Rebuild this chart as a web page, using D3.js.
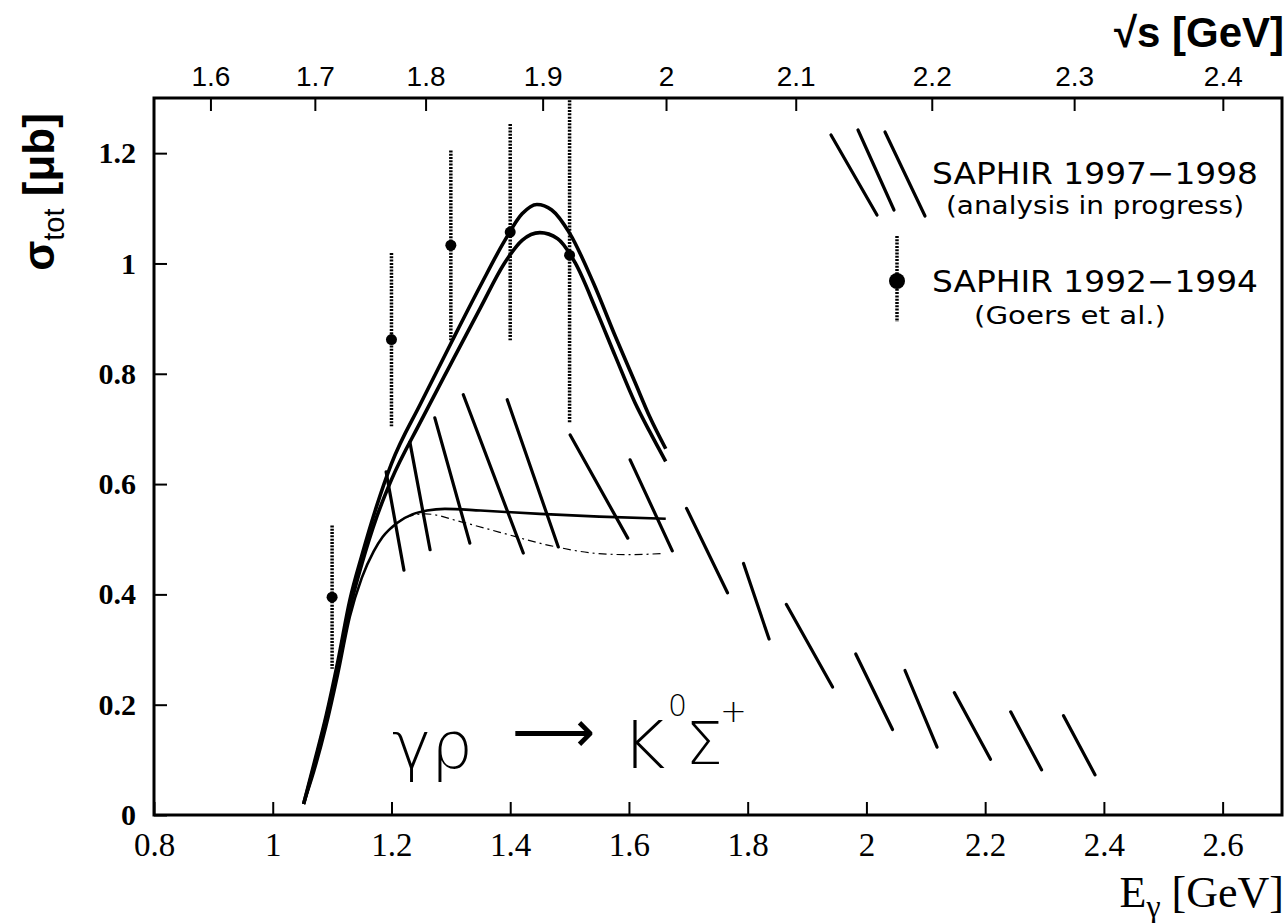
<!DOCTYPE html>
<html>
<head>
<meta charset="utf-8">
<script src="https://cdn.jsdelivr.net/npm/d3@7"></script>
<style>
  body { margin: 0; background: #fff; }
  svg { display: block; }
  .tick text { fill: #000; }
</style>
</head>
<body>
<div id="chart"></div>
<script>

      // SAPHIR 1992-1994 points (Goers et al.)
      var pointE = [1.1, 1.2, 1.3, 1.4, 1.5];
      var pointS = [0.395, 0.862, 1.033, 1.057, 1.015];
      var pointErr = [0.13, 0.157, 0.172, 0.196, 0.305];

      // model curves [E, sigma]
      var curveA = [[1.052,0.02],[1.07,0.095],[1.09,0.18],[1.11,0.28],[1.13,0.39],[1.15,0.47],
                    [1.175,0.56],[1.2,0.637],[1.25,0.748],[1.3,0.855],[1.35,0.96],[1.39,1.04],
                    [1.42,1.09],[1.445,1.107],[1.47,1.097],[1.5,1.055],[1.54,0.965],[1.577,0.868],
                    [1.61,0.785],[1.635,0.722],[1.662,0.664]];
      var curveB = [[1.052,0.02],[1.07,0.09],[1.09,0.175],[1.11,0.27],[1.13,0.375],[1.15,0.455],
                    [1.175,0.54],[1.2,0.608],[1.25,0.715],[1.3,0.818],[1.35,0.92],[1.39,1.0],
                    [1.42,1.042],[1.45,1.056],[1.48,1.045],[1.51,1.0],[1.545,0.915],[1.577,0.832],
                    [1.61,0.748],[1.635,0.695],[1.662,0.641]];
      var curveC = [[1.052,0.02],[1.07,0.08],[1.09,0.16],[1.11,0.255],[1.13,0.36],[1.15,0.43],
                    [1.17,0.478],[1.185,0.504],[1.21,0.53],[1.235,0.545],[1.26,0.552],[1.29,0.555],
                    [1.35,0.552],[1.45,0.546],[1.55,0.541],[1.662,0.537]];
      var curveD = [[1.2,0.52],[1.225,0.54],[1.257,0.546],[1.319,0.531],[1.381,0.513],
                    [1.465,0.489],[1.549,0.474],[1.6,0.472],[1.655,0.474]];

      // SAPHIR 1997-1998 hatching, each stroke [E1, s1, E2, s2]
      var hatchStrokes = [
        [1.191,0.622,1.221,0.444], [1.231,0.676,1.265,0.481], [1.273,0.720,1.332,0.493],
        [1.321,0.762,1.422,0.475], [1.395,0.753,1.481,0.486], [1.501,0.689,1.598,0.502],
        [1.602,0.644,1.673,0.479], [1.697,0.556,1.766,0.403], [1.793,0.456,1.836,0.319],
        [1.865,0.382,1.943,0.232], [1.982,0.292,2.044,0.155], [2.065,0.262,2.119,0.123],
        [2.148,0.222,2.209,0.101], [2.243,0.187,2.295,0.082], [2.332,0.180,2.385,0.073]
      ];

      // ticks
      var xMajor = [0.8, 1, 1.2, 1.4, 1.6, 1.8, 2, 2.2, 2.4, 2.6];
      var yMajor = [0, 0.2, 0.4, 0.6, 0.8, 1, 1.2];
      var wMajor = [1.6, 1.7, 1.8, 1.9, 2, 2.1, 2.2, 2.3, 2.4];

      var mp = 0.938272;

      var svg = d3.select("#chart").append("svg")
          .attr("width", 1287)
          .attr("height", 923);

      var pLeft = 154, pRight = 1282, pTop = 98, pBottom = 815;

      ////// Scales /////////////////
      var xScale = d3.scaleLinear().domain([0.8, 2.7]).range([pLeft, pRight]);
      var yScale = d3.scaleLinear().domain([0, 1.3]).range([pBottom, pTop]);
      // sqrt(s) = sqrt(mp^2 + 2 mp E)  ->  x is linear in s, so a pow scale with exponent 2
      var wScale = d3.scalePow().exponent(2)
          .domain([Math.sqrt(mp*mp + 2*mp*0.8), Math.sqrt(mp*mp + 2*mp*2.7)])
          .range([pLeft, pRight]);

      var xMinor = d3.range(0.8, 2.7, 0.05);
      var yMinor = d3.range(0, 1.3, 0.05);
      var wMinor = d3.range(1.56, 2.44, 0.02);

      /////// Axes //////////////////
      var gx = svg.append("g").attr("transform", "translate(0," + pBottom + ")");
      gx.call(d3.axisBottom(xScale).tickValues(xMinor).tickSize(-6).tickFormat(""));
      gx.call(d3.axisBottom(xScale).tickValues(xMajor).tickSize(-13).tickPadding(18)
          .tickFormat(function(d) { return String(+d.toFixed(1)); }));
      gx.selectAll("text")
          .attr("font-family", "Liberation Serif, Times New Roman, serif")
          .attr("font-size", 33);

      var gy = svg.append("g").attr("transform", "translate(" + pLeft + ",0)");
      gy.call(d3.axisLeft(yScale).tickValues(yMinor).tickSize(-7).tickFormat(""));
      gy.call(d3.axisLeft(yScale).tickValues(yMajor).tickSize(-13).tickPadding(18)
          .tickFormat(function(d) { return String(+d.toFixed(1)); }));
      gy.selectAll("text")
          .attr("font-family", "Liberation Serif, Times New Roman, serif")
          .attr("font-weight", "bold")
          .attr("font-size", 30);

      var gw = svg.append("g").attr("transform", "translate(0," + pTop + ")");
      gw.call(d3.axisTop(wScale).tickValues(wMinor).tickSize(-6).tickFormat(""));
      gw.call(d3.axisTop(wScale).tickValues(wMajor).tickSize(-13).tickPadding(12)
          .tickFormat(function(d) { return String(+d.toFixed(1)); }));
      gw.selectAll("text")
          .attr("font-family", "Liberation Sans Narrow, Liberation Sans, Arial, sans-serif")
          .attr("font-size", 28);

      svg.selectAll(".domain").remove();
      svg.selectAll(".tick line").attr("stroke", "#000").attr("stroke-width", 2);

      // frame
      svg.append("rect")
          .attr("x", pLeft).attr("y", pTop)
          .attr("width", pRight - pLeft).attr("height", pBottom - pTop)
          .attr("fill", "none").attr("stroke", "#000").attr("stroke-width", 3);

      // axis titles
      svg.append("text")
          .attr("x", 1284).attr("y", 47)
          .attr("text-anchor", "end")
          .attr("font-family", "Liberation Sans Narrow, Liberation Sans, Arial, sans-serif")
          .attr("font-weight", "bold")
          .attr("font-size", 42)
          .text("√s [GeV]");

      var ex = svg.append("text")
          .attr("x", 1284).attr("y", 907)
          .attr("text-anchor", "end")
          .attr("font-family", "Liberation Serif, Times New Roman, serif")
          .attr("font-size", 44);
      ex.append("tspan").text("E");
      ex.append("tspan").attr("dy", 10).attr("font-size", 32).text("γ");
      ex.append("tspan").attr("dy", -10).text(" [GeV]");

      var sy = svg.append("text")
          .attr("transform", "translate(54,192) rotate(-90)")
          .attr("text-anchor", "middle")
          .attr("font-family", "Liberation Sans, Arial, sans-serif")
          .attr("font-weight", "bold")
          .attr("font-size", 44);
      sy.append("tspan").text("σ");
      sy.append("tspan").attr("dy", 10).attr("font-size", 29).attr("font-weight", "normal").text("tot");
      sy.append("tspan").attr("dy", -10).text(" [μb]");

      ////// plot content, clipped to frame //////
      svg.append("clipPath").attr("id", "frameClip")
          .append("rect")
          .attr("x", pLeft).attr("y", pTop)
          .attr("width", pRight - pLeft).attr("height", pBottom - pTop);

      var plot = svg.append("g").attr("clip-path", "url(#frameClip)");

      var line = d3.line()
          .x(function(d) { return xScale(d[0]); })
          .y(function(d) { return yScale(d[1]); })
          .curve(d3.curveMonotoneX);

      // hatch strokes
      plot.append("g")
          .selectAll("line")
          .data(hatchStrokes)
          .enter()
          .append("line")
          .attr("x1", function(d) { return xScale(d[0]); })
          .attr("y1", function(d) { return yScale(d[1]); })
          .attr("x2", function(d) { return xScale(d[2]); })
          .attr("y2", function(d) { return yScale(d[3]); })
          .attr("stroke", "#000")
          .attr("stroke-width", 3.2)
          .attr("stroke-linecap", "round");

      plot.append("path").datum(curveA).attr("d", line)
          .attr("fill", "none").attr("stroke", "#000").attr("stroke-width", 3.6);
      plot.append("path").datum(curveB).attr("d", line)
          .attr("fill", "none").attr("stroke", "#000").attr("stroke-width", 3.6);
      plot.append("path").datum(curveC).attr("d", line)
          .attr("fill", "none").attr("stroke", "#000").attr("stroke-width", 2.6);
      plot.append("path").datum(curveD).attr("d", line)
          .attr("fill", "none").attr("stroke", "#000").attr("stroke-width", 1.2)
          .attr("stroke-dasharray", "8,4,2,4");

      // error bars (dotted) and points
      var pts = pointE.map(function(e, i) { return {e: e, s: pointS[i], err: pointErr[i]}; });

      plot.append("g")
          .selectAll("line")
          .data(pts)
          .enter()
          .append("line")
          .attr("x1", function(d) { return xScale(d.e); })
          .attr("x2", function(d) { return xScale(d.e); })
          .attr("y1", function(d) { return yScale(d.s + d.err); })
          .attr("y2", function(d) { return yScale(d.s - d.err); })
          .attr("stroke", "#000")
          .attr("stroke-width", 3.5)
          .attr("stroke-dasharray", "2,1.3");

      plot.append("g")
          .selectAll("circle")
          .data(pts)
          .enter()
          .append("circle")
          .attr("cx", function(d) { return xScale(d.e); })
          .attr("cy", function(d) { return yScale(d.s); })
          .attr("r", 5.5)
          .attr("fill", "#000");

      ////// reaction label //////
      var rx = svg.append("g")
          .attr("font-family", "DejaVu Sans, sans-serif")
          .attr("font-weight", "300");
      rx.append("text").attr("x", 392).attr("y", 768).attr("font-size", 66).text("γρ");
      rx.append("text").attr("x", 512).attr("y", 752).attr("font-size", 58).text("⟶");
      rx.append("text").attr("x", 622).attr("y", 768).attr("font-size", 66).text("K");
      rx.append("text").attr("x", 668).attr("y", 716).attr("font-size", 30).text("0");
      rx.append("text").attr("x", 686).attr("y", 764).attr("font-size", 58).text("Σ");
      rx.append("text").attr("x", 720).attr("y", 722).attr("font-size", 32).text("+");

      ////// legend //////
      var legend = svg.append("g");
      [[831,135,877,215],[858,130,894,210],[885,132,925,216]].forEach(function(s) {
        legend.append("line")
            .attr("x1", s[0]).attr("y1", s[1]).attr("x2", s[2]).attr("y2", s[3])
            .attr("stroke", "#000").attr("stroke-width", 3.2).attr("stroke-linecap", "round");
      });
      legend.append("line")
          .attr("x1", 897).attr("x2", 897).attr("y1", 236).attr("y2", 322)
          .attr("stroke", "#000").attr("stroke-width", 3.5).attr("stroke-dasharray", "2,1.3");
      legend.append("circle").attr("cx", 897).attr("cy", 281).attr("r", 8).attr("fill", "#000");

      var lt = legend.append("g")
          .attr("font-family", "DejaVu Sans, sans-serif")
          .attr("fill", "#000");
      lt.append("text").attr("x", 932).attr("y", 184).attr("font-size", 31)
          .attr("textLength", 326).attr("lengthAdjust", "spacingAndGlyphs").text("SAPHIR 1997−1998");
      lt.append("text").attr("x", 946).attr("y", 214).attr("font-size", 24)
          .attr("textLength", 298).attr("lengthAdjust", "spacingAndGlyphs").text("(analysis in progress)");
      lt.append("text").attr("x", 932).attr("y", 292).attr("font-size", 31)
          .attr("textLength", 326).attr("lengthAdjust", "spacingAndGlyphs").text("SAPHIR 1992−1994");
      lt.append("text").attr("x", 974).attr("y", 324).attr("font-size", 24)
          .attr("textLength", 192).attr("lengthAdjust", "spacingAndGlyphs").text("(Goers et al.)");

</script>
</body>
</html>
